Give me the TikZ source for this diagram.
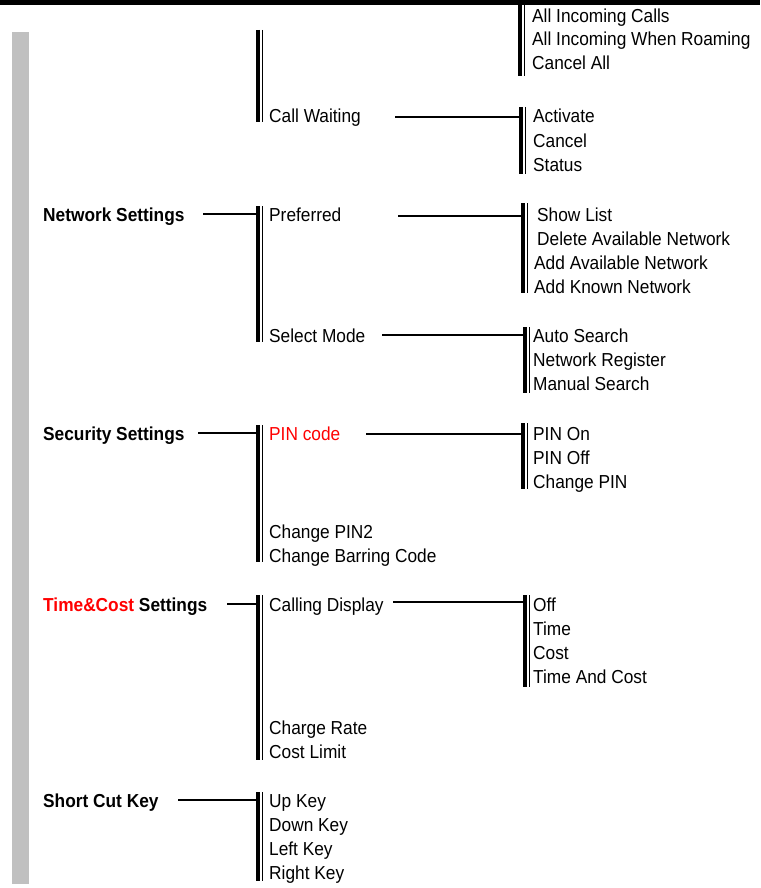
\documentclass[tikz,border=0pt]{standalone}
\usepackage{fontspec}
\setmainfont{Liberation Sans}[FakeStretch=0.92]
\definecolor{sidegray}{HTML}{C0C0C0}
\definecolor{hired}{HTML}{FF0000}
% #1 name, #2 left x, #3 top y, #4 bottom y
\newcommand\dbar[4]{%
  \coordinate (#1) at (#2,#3);
  \draw[thickbar] (#2+2,#3) -- (#2+2,#4);
  \draw[thinbar] (#2+6.7,#3) -- (#2+6.7,#4);}
\begin{document}
\begin{tikzpicture}[x=1pt,y=-1pt,
  txt/.style={anchor=base west, inner sep=0pt, font=\fontsize{18.8}{22}\selectfont},
  hd/.style={anchor=base west, inner sep=0pt, font=\fontsize{18.8}{22}\selectfont\bfseries},
  thickbar/.style={line width=4pt},
  thinbar/.style={line width=1.3pt},
  conn/.style={line width=2pt},
]
\useasboundingbox (0,0) rectangle (760,888);
\fill[black] (0,0) rectangle (760,5);
\fill[sidegray] (12,32) rectangle (29,884);

% ---- bars
\dbar{barcwtop}{256}{30}{122}
\dbar{barinc}{518}{4}{76}
\dbar{baract}{519}{107}{174}
\dbar{barns}{256}{206}{342}
\dbar{barpr}{521}{203}{293}
\dbar{barsm}{523}{327}{393}
\dbar{barss}{256}{425}{562}
\dbar{barpin}{521}{423}{489}
\dbar{bartc}{256}{595}{760}
\dbar{baroff}{523}{595}{687}
\dbar{barsc}{256}{792}{881}

% ---- texts
\node[txt] (cw) at (269,122) {Call Waiting};
\node[txt] (inc1) at (532,22.5) {All Incoming Calls};
\node[txt] (inc2) at (532,46) {All Incoming When Roaming};
\node[txt] (inc3) at (532,69.5) {Cancel All};
\node[txt] (act) at (533,123) {Activate};
\node[txt] (can) at (533,147) {Cancel};
\node[txt] (sta) at (533,171) {Status};

\node[hd] (ns) at (43,221) {Network Settings};
\node[txt] (pr) at (269,221) {Preferred};
\node[txt] (sl) at (537,221) {Show List};
\node[txt] (dan) at (537,245) {Delete Available Network};
\node[txt] (aan) at (534,269) {Add Available Network};
\node[txt] (akn) at (534,293) {Add Known Network};
\node[txt] (sm) at (269,342) {Select Mode};
\node[txt] (as) at (533,342) {Auto Search};
\node[txt] (nr) at (533,366) {Network Register};
\node[txt] (ms) at (533,390) {Manual Search};

\node[hd] (ss) at (43,440) {Security Settings};
\node[txt, text=hired] (pin) at (269,440) {PIN code};
\node[txt] (pon) at (533,440) {PIN On};
\node[txt] (poff) at (533,464) {PIN Off};
\node[txt] (cpin) at (533,488) {Change PIN};
\node[txt] (cp2) at (269,538) {Change PIN2};
\node[txt] (cbc) at (269,562) {Change Barring Code};

\node[hd] (tc) at (43,611) {\textcolor{hired}{Time\&Cost} Settings};
\node[txt] (cd) at (269,611) {Calling Display};
\node[txt] (off) at (533,611) {Off};
\node[txt] (tim) at (533,635) {Time};
\node[txt] (cst) at (533,659) {Cost};
\node[txt] (tac) at (533,683) {Time And Cost};
\node[txt] (cr) at (269,734) {Charge Rate};
\node[txt] (cl) at (269,758) {Cost Limit};

\node[hd] (sc) at (43,807) {Short Cut Key};
\node[txt] (uk) at (269,807) {Up Key};
\node[txt] (dk) at (269,831) {Down Key};
\node[txt] (lk) at (269,855) {Left Key};
\node[txt] (rk) at (269,879) {Right Key};

% ---- connectors
\coordinate (cwL) at (395,117);
\coordinate (nsL) at (203,214);
\coordinate (prL) at (398,216);
\coordinate (smL) at (382,335);
\coordinate (ssL) at (198,433);
\coordinate (pinL) at (366,434);
\coordinate (tcL) at (227,604);
\coordinate (cdL) at (393,602);
\coordinate (scL) at (178,800);
\draw[conn] (cwL) -- (cwL -| baract);
\draw[conn] (nsL) -- (nsL -| barns);
\draw[conn] (prL) -- (prL -| barpr);
\draw[conn] (smL) -- (smL -| barsm);
\draw[conn] (ssL) -- (ssL -| barss);
\draw[conn] (pinL) -- (pinL -| barpin);
\draw[conn] (tcL) -- (tcL -| bartc);
\draw[conn] (cdL) -- (cdL -| baroff);
\draw[conn] (scL) -- (scL -| barsc);
\end{tikzpicture}
\end{document}
